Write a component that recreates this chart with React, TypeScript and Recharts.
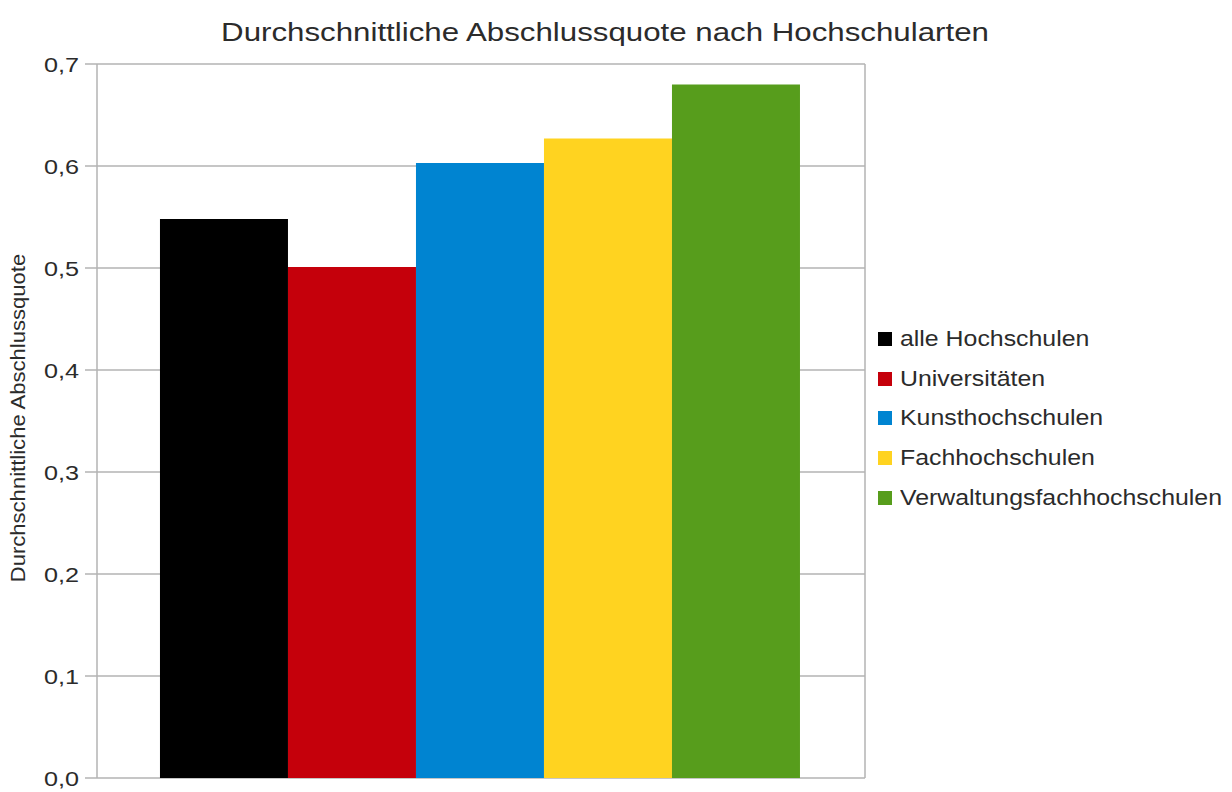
import { BarChart, Bar, XAxis, YAxis, CartesianGrid, Legend } from 'recharts';

const seriesNames = ['alle Hochschulen', 'Universitäten', 'Kunsthochschulen', 'Fachhochschulen', 'Verwaltungsfachhochschulen'];
const seriesValues = [0.548, 0.501, 0.603, 0.627, 0.680];
const seriesColors = ['#000000', '#c5000b', '#0084d1', '#ffd320', '#579d1c'];
const yTicks = [0, 0.1, 0.2, 0.3, 0.4, 0.5, 0.6, 0.7];

const FONT = '"Liberation Sans", Arial, sans-serif';
const TEXT = '#2b2b2b';
const GRID = '#b3b3b3';
// the original text is a little wider than Arial at the same height
const STRETCH = 1.2;

// one category, one bar per series
const chartData = [
    seriesNames.reduce((row: any, name, i) => {
        row[name] = seriesValues[i];
        return row;
    }, { cat: '' })
];

const YTick = (props: any) => {
    const { x, y, payload } = props;
    return (
        <text
            transform={`translate(${x},${y}) scale(${STRETCH},1)`}
            textAnchor="end"
            dy="0.36em"
            fill={TEXT}
            fontSize={21}
            fontFamily={FONT}
        >
            {payload.value.toFixed(1).replace('.', ',')}
        </text>
    );
};

const renderLegend = (props: any) => {
    const items = [...props.payload].sort((a: any, b: any) => seriesNames.indexOf(a.value) - seriesNames.indexOf(b.value));
    return (
        <div style={{ fontFamily: FONT, fontSize: 22, color: TEXT }}>
            {items.map((entry: any) => (
                <div key={entry.value} style={{ display: 'flex', alignItems: 'center', height: 39.7 }}>
                    <span style={{ display: 'inline-block', width: 14, height: 14, background: entry.color, marginRight: 8 }} />
                    <span style={{ display: 'inline-block', transform: 'scaleX(1.13)', transformOrigin: 'left center', whiteSpace: 'nowrap' }}>{entry.value}</span>
                </div>
            ))}
        </div>
    );
};

export default function App() {
    return (
        <div style={{ position: 'absolute', left: 0, top: 0, width: 1232, height: 792, background: '#fff', overflow: 'hidden' }}>
            <div style={{ position: 'absolute', left: 0, top: 18, width: 1210, textAlign: 'center', fontFamily: FONT, fontSize: 25, color: TEXT, transform: `scaleX(1.25)`, transformOrigin: '605px 0' }}>
                Durchschnittliche Abschlussquote nach Hochschularten
            </div>
            <div style={{ position: 'absolute', left: 18, top: 418, fontFamily: FONT, fontSize: 21, color: TEXT, whiteSpace: 'nowrap', transform: 'translate(-50%, -50%) rotate(-90deg) scaleX(1.05)' }}>
                Durchschnittliche Abschlussquote
            </div>
            <BarChart
                width={1232}
                height={792}
                data={chartData}
                margin={{ top: 64, right: 366, left: 0, bottom: 2 }}
                barCategoryGap="8.2%"
                barGap={0}
                style={{ position: 'absolute', left: 0, top: 0 }}
            >
                <CartesianGrid horizontal vertical={false} stroke={GRID} strokeWidth={1.5} />
                <XAxis dataKey="cat" hide />
                <XAxis
                    xAxisId="edge"
                    type="number"
                    domain={[0, 1]}
                    ticks={[0, 1]}
                    tick={false}
                    tickSize={12}
                    height={12}
                    stroke={GRID}
                    strokeWidth={1.5}
                />
                <YAxis
                    width={97}
                    domain={[0, 0.7]}
                    ticks={yTicks}
                    interval={0}
                    tickSize={12}
                    tickMargin={6}
                    stroke={GRID}
                    strokeWidth={1.5}
                    tick={<YTick />}
                />
                <YAxis
                    yAxisId="right"
                    orientation="right"
                    width={1}
                    domain={[0, 0.7]}
                    ticks={yTicks}
                    tick={false}
                    tickLine={false}
                    stroke={GRID}
                    strokeWidth={1.5}
                />
                <Legend
                    layout="vertical"
                    align="center"
                    verticalAlign="middle"
                    content={renderLegend}
                    wrapperStyle={{ left: 878, top: 319, right: 'auto', width: 350 }}
                />
                {seriesNames.map((name, i) => (
                    <Bar key={name} dataKey={name} fill={seriesColors[i]} isAnimationActive={false} />
                ))}
            </BarChart>
        </div>
    );
}
